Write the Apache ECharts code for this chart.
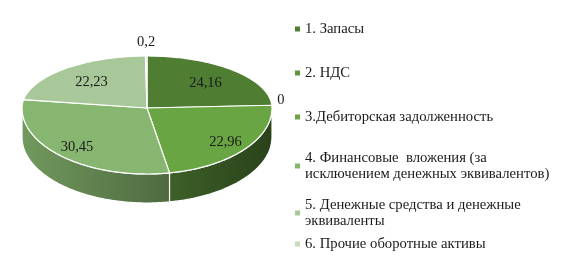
<!DOCTYPE html>
<html>
<head>
<meta charset="utf-8">
<script src="https://cdn.jsdelivr.net/npm/echarts@6/dist/echarts.min.js"></script>
<style>
  html, body { margin: 0; padding: 0; background: #fff; }
  #chart { width: 563px; height: 275px; }
</style>
</head>
<body>
<div id="chart"></div>
<script>
// Data
const categories = [
  '1. Запасы',
  '2. НДС',
  '3.Дебиторская задолженность',
  '4. Финансовые  вложения (за\nисключением денежных эквивалентов)',
  '5. Денежные средства и денежные\nэквиваленты',
  '6. Прочие оборотные активы'
];
const values = [24.16, 0, 22.96, 30.45, 22.23, 0.2];
const colors = ['#4f7e33', '#5e9339', '#6aa544', '#86b66f', '#a8c89a', '#c6dcbb'];

// legend entry tops (px)
const legendTops = [16, 60, 104, 137, 184, 231];

var chart = echarts.init(document.getElementById('chart'));

// pseudo 3D pie geometry
const cx = 147, cy = 108, rx = 125, ryBack = 52, ryFront = 66, depth = 29;

function pt(deg, dy) {
  const a = deg * Math.PI / 180;
  const c = Math.cos(a);
  return [cx + rx * Math.sin(a), cy - (c > 0 ? ryBack : ryFront) * c + (dy || 0)];
}

function arc(a0, a1, dy) {
  const pts = [];
  const n = Math.max(2, Math.ceil(Math.abs(a1 - a0)));
  for (let k = 0; k <= n; k++) pts.push(pt(a0 + (a1 - a0) * k / n, dy));
  return pts;
}

function shade(hex, f) {
  const n = parseInt(hex.slice(1), 16);
  const r = Math.round(((n >> 16) & 255) * f);
  const g = Math.round(((n >> 8) & 255) * f);
  const b = Math.round((n & 255) * f);
  return 'rgb(' + r + ',' + g + ',' + b + ')';
}

const total = values.reduce((s, v) => s + v, 0);
const starts = [];
let acc = 0;
values.forEach(v => { starts.push(acc); acc += v; });

function renderSlice(i) {
  return function (params, api) {
    const v = api.value(0);
    const a0 = starts[i] / total * 360;
    const a1 = a0 + v / total * 360;
    const children = [];

    // visible side wall (front half)
    const s0 = Math.max(a0, 90), s1 = Math.min(a1, 270);
    if (s1 > s0) {
      children.push({
        type: 'polygon',
        shape: { points: arc(s0, s1, 0).concat(arc(s1, s0, depth)) },
        style: {
          fill: new echarts.graphic.LinearGradient(cx - rx, 0, cx + rx, 0, [
            { offset: 0, color: shade(colors[i], 0.84) },
            { offset: 1, color: shade(colors[i], 0.4) }
          ], true),
          stroke: '#fff',
          lineWidth: 1.2
        }
      });
    }

    // top surface
    if (v > 0) {
      children.push({
        type: 'polygon',
        shape: { points: [[cx, cy]].concat(arc(a0, a1, 0)) },
        style: { fill: colors[i], stroke: '#fff', lineWidth: 1.2 }
      });
    }

    // value label
    const mid = (a0 + a1) / 2;
    const m = mid * Math.PI / 180;
    const sn = Math.sin(m), cs = Math.cos(m);
    let lx, ly;
    if (v < 1) {
      lx = cx + (rx + 9) * sn;
      ly = cy - (ryBack + 14) * cs - (cs > 0.5 ? 0 : 4);
    } else {
      const f = cs > 0 ? 0.68 : 0.8;
      lx = cx + rx * f * sn;
      ly = cy - (cs > 0 ? ryBack : ryFront) * f * cs + 1;
    }
    children.push({
      type: 'text',
      z2: 100,
      style: {
        x: lx, y: ly,
        text: String(v).replace('.', ','),
        fill: '#1a1a1a',
        fontSize: 14.5,
        fontFamily: 'Liberation Serif',
        align: 'center',
        verticalAlign: 'middle'
      }
    });

    return { type: 'group', children: children };
  };
}

const series = categories.map((name, i) => ({
  type: 'custom',
  name: name,
  coordinateSystem: 'none',
  silent: true,
  itemStyle: { color: colors[i] },
  renderItem: renderSlice(i),
  data: [[values[i]]]
}));

const legend = categories.map((name, i) => ({
  data: [name],
  left: 290,
  top: legendTops[i],
  orient: 'vertical',
  icon: 'rect',
  itemWidth: 5,
  itemHeight: 5,
  selectedMode: false,
  textStyle: {
    fontFamily: 'Liberation Serif',
    fontSize: 14.7,
    lineHeight: 16,
    color: '#1a1a1a',
    padding: name.indexOf('\n') >= 0 ? [16, 0, 0, 0] : 0
  }
}));

var option = {
  animation: false,
  backgroundColor: '#fff',
  legend: legend,
  series: series
};

option && chart.setOption(option);
</script>
</body>
</html>
